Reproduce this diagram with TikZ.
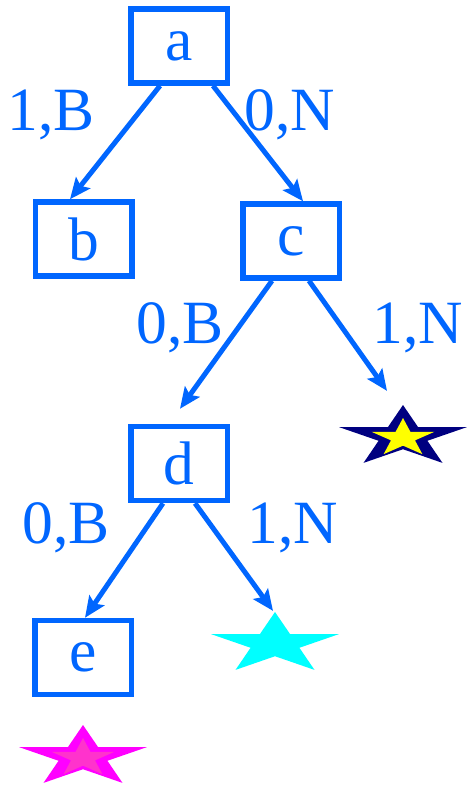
\documentclass[tikz,border=0pt]{standalone}
\usepackage{fontspec}
\setmainfont{Liberation Serif}
\usetikzlibrary{shapes.geometric,arrows.meta,positioning}
\definecolor{treeblue}{RGB}{0,102,255}
\definecolor{starnavy}{RGB}{0,0,128}
\definecolor{staryellow}{RGB}{255,255,0}
\definecolor{starcyan}{RGB}{0,255,255}
\definecolor{starmagenta}{RGB}{255,0,255}
\definecolor{starpink}{RGB}{255,51,204}

\begin{document}
\begin{tikzpicture}[
				state/.style={
					draw=treeblue,
					line width=0.11cm,
					minimum width=1.93cm,
					minimum height=1.48cm,
					inner sep=0pt,
					text=treeblue,
					font=\fontsize{35}{42}\selectfont
				},
				leaf/.style={
					star,
					star points=5,
					star point ratio=2.618,
					inner sep=0pt,
					minimum size=1.28cm,
					xscale=2.1
				},
				core/.style={
					star,
					star points=5,
					star point ratio=2.618,
					inner sep=0pt,
					minimum size=0.8cm,
					xscale=1.65
				},
				arr/.style={
					draw=treeblue,
					line width=0.1cm,
					-{Stealth[length=0.42cm,width=0.36cm,inset=0.08cm]}
				},
				lab/.style={
					text=treeblue,
					anchor=base,
					inner sep=0pt,
					font=\fontsize{35}{42}\selectfont
				}
			]
			\useasboundingbox (0,0) rectangle (9.34,-15.72);
			
			\node[state] (a) at (3.58,-0.92) {a};
			\node[state] (b) at (1.67,-4.78) {b};
			\node[state] (c) at (5.82,-4.82) {c};
			\node[state] (d) at (3.58,-9.27) {d};
			\node[state] (e) at (1.66,-13.15) {e};
			
			\node[leaf,fill=starnavy] (s1) at (8.06,-8.74) {};
			\node[core,fill=staryellow] (s1in) at ([yshift=-0.02cm]s1.center) {};
			\node[leaf,fill=starcyan] (s2) at (5.5,-12.88) {};
			\node[leaf,fill=starmagenta] (s3) at (1.66,-15.14) {};
			\node[core,fill=starpink] (s3in) at ([yshift=-0.02cm]s3.center) {};
			
			\draw[arr] ([xshift=-0.38cm]a.south) -- ([xshift=-0.27cm]b.north);
			\draw[arr] ([xshift=0.68cm]a.south) -- ([xshift=0.24cm]c.north);
			\draw[arr] ([xshift=-0.38cm]c.south) -- ([xshift=0.02cm,yshift=0.3cm]d.north);
			\draw[arr] ([xshift=0.36cm]c.south) -- ([xshift=-0.32cm,yshift=0.26cm]s1.north);
			\draw[arr] ([xshift=-0.32cm]d.south) -- ([xshift=0.04cm]e.north);
			\draw[arr] ([xshift=0.32cm]d.south) -- ([xshift=-0.04cm]s2.north);
			
			\node[lab] (l1) at (1.02,-2.6) {1,B};
			\node[lab] (l2) at (5.8,-2.6) {0,N};
			\node[lab] (l3) at (3.6,-6.86) {0,B};
			\node[lab] (l4) at (8.36,-6.86) {1,N};
			\node[lab] (l5) at (1.32,-10.86) {0,B};
			\node[lab] (l6) at (5.86,-10.86) {1,N};
		\end{tikzpicture}
\end{document}
